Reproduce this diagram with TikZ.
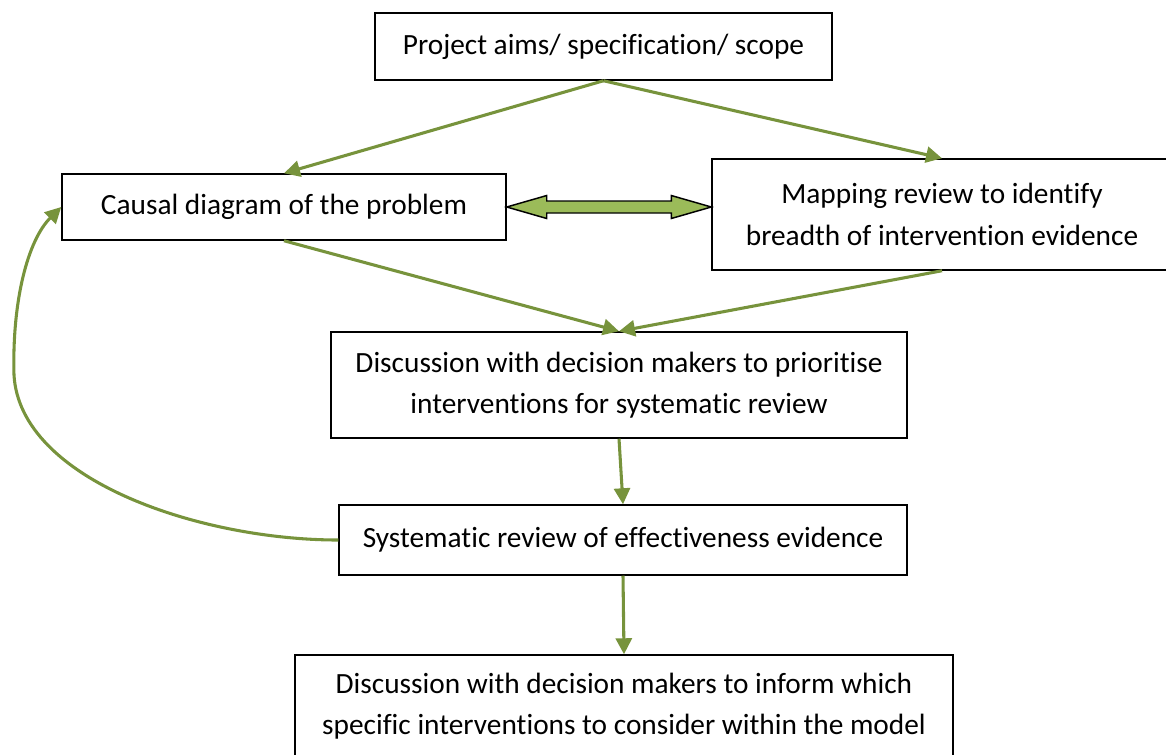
\documentclass[tikz,border=0pt]{standalone}
\usepackage{fontspec}
\setmainfont{Carlito}[Ligatures=NoCommon]
\usetikzlibrary{arrows.meta,calc}

\definecolor{olive}{HTML}{77933C}
\definecolor{olivefill}{HTML}{9BBB59}

\begin{document}
\begin{tikzpicture}[x=0.75pt, y=-0.75pt,
    box/.style={draw, line width=1.1pt, inner sep=0pt, align=center,
        font=\fontsize{22}{31}\selectfont},
    link/.style={draw=olive, line width=2.3pt, -{Triangle[length=12pt, width=12pt]}},
    bothway/.style={draw, line width=1.1pt, fill=olivefill, line join=miter}]
    \useasboundingbox (0,0) rectangle (1166,754);

    % Boxes
    \node[box, minimum width=342.75pt, minimum height=50.25pt] (aims) at (603.5,46.5)
        {Project aims/ specification/ scope};
    \node[box, minimum width=333pt, minimum height=49.5pt] (causal) at (284,207)
        {Causal diagram of the problem};
    \node[box, minimum width=345pt, minimum height=83.25pt] (mapping) at (942,214.5)
        {Mapping review to identify\\breadth of intervention evidence};
    \node[box, minimum width=432pt, minimum height=79.5pt] (prior) at (619,385)
        {Discussion with decision makers to prioritise\\interventions for systematic review};
    \node[box, minimum width=426pt, minimum height=52.5pt] (sysrev) at (623,540)
        {Systematic review of effectiveness evidence};
    \node[box, minimum width=493.5pt, minimum height=76.5pt] (inform) at (624,706)
        {Discussion with decision makers to inform which\\specific interventions to consider within the model};

    % Two-way arrow
    \coordinate (swapend) at (mapping.west|-causal.east);
    \draw[bothway] (causal.east) -- ++(40,-11.5) -- ++(0,5.5)
        -- ($(swapend)+(-40,-6)$) -- ++(0,-5.5) -- (swapend)
        -- ++(-40,11.5) -- ++(0,-5.5) -- ($(causal.east)+(40,6)$) -- ++(0,5.5) -- cycle;

    % Arrows
    \draw[link] (aims.south) -- (causal.north);
    \draw[link] (aims.south) -- (mapping.north);
    \draw[link] (causal.south) -- (prior.north);
    \draw[link] (mapping.south) -- (prior.north);
    \draw[link] (prior.south) -- (sysrev.north);
    \draw[link] (sysrev.south) -- (inform.north);

    % Loop back
    \draw[link] (sysrev.west) .. controls (200,540) and (20,480) .. (14,375)
        .. controls (12,300) and (28,240) .. (causal.west);
\end{tikzpicture}
\end{document}
